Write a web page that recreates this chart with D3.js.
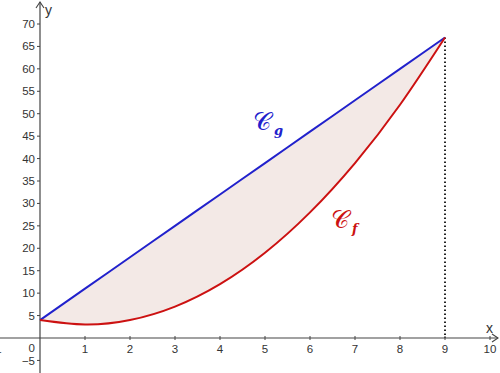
<!DOCTYPE html>
<html>
<head>
<meta charset="utf-8">
<script src="https://cdn.jsdelivr.net/npm/d3@7"></script>
<style>
  body { margin: 0; background: #fff; }
  svg { display: block; }
</style>
</head>
<body>
<div id="chart"></div>
<script>
// values
const xValues = [0, 1, 2, 3, 4, 5, 6, 7, 8, 9]
const fValues = [4, 3, 4, 7, 12, 19, 28, 39, 52, 67]
const gValues = [4, 11, 18, 25, 32, 39, 46, 53, 60, 67]
const xTicks = [-1, 1, 2, 3, 4, 5, 6, 7, 8, 9, 10]
const yTicks = [-5, 5, 10, 15, 20, 25, 30, 35, 40, 45, 50, 55, 60, 65, 70]

const width = 500, height = 373

const div = d3.select('#chart')
const svg = div.append('svg')
    .attr('width', width)
    .attr('height', height)

// scales
const xScale = d3.scaleLinear().domain([0, 9]).range([40, 445])
const yScale = d3.scaleLinear().domain([0, 70]).range([338, 24])

const pts = xValues.map((x, i) => ({x: x, f: fValues[i], g: gValues[i]}))

// shaded region between the curves
const area = d3.area()
    .x(d => xScale(d.x))
    .y0(d => yScale(d.f))
    .y1(d => yScale(d.g))
    .curve(d3.curveNatural)
svg.append('path')
    .datum(pts)
    .attr('d', area)
    .attr('fill', '#f3e9e6')

// axes
const axisColor = '#444'
svg.append('line')
    .attr('x1', 0).attr('x2', 498)
    .attr('y1', yScale(0)).attr('y2', yScale(0))
    .attr('stroke', axisColor).attr('stroke-width', 1.2)
svg.append('line')
    .attr('x1', xScale(0)).attr('x2', xScale(0))
    .attr('y1', height).attr('y2', 2)
    .attr('stroke', axisColor).attr('stroke-width', 1.2)

// arrow heads
svg.append('path')
    .attr('d', `M${xScale(0) - 4},8 L${xScale(0)},2 L${xScale(0) + 4},8`)
    .attr('fill', 'none').attr('stroke', axisColor).attr('stroke-width', 1.1)
svg.append('path')
    .attr('d', `M492,${yScale(0) - 4} L498,${yScale(0)} L492,${yScale(0) + 4}`)
    .attr('fill', 'none').attr('stroke', axisColor).attr('stroke-width', 1.1)

const textStyle = sel => sel
    .attr('font-family', 'Liberation Sans, Arial, sans-serif')
    .attr('font-size', 11.5)
    .attr('fill', '#333')

// x ticks
const xt = svg.append('g')
xt.selectAll('line').data(xTicks).join('line')
    .attr('x1', d => xScale(d)).attr('x2', d => xScale(d))
    .attr('y1', yScale(0) - 2).attr('y2', yScale(0) + 2)
    .attr('stroke', axisColor)
xt.selectAll('text').data(xTicks).join('text')
    .attr('x', d => xScale(d)).attr('y', yScale(0) + 15)
    .attr('text-anchor', 'middle')
    .text(d => d < 0 ? '\u2212' + Math.abs(d) : d)
    .call(textStyle)

// y ticks
const yt = svg.append('g')
yt.selectAll('line').data(yTicks).join('line')
    .attr('x1', xScale(0) - 3).attr('x2', xScale(0))
    .attr('y1', d => yScale(d)).attr('y2', d => yScale(d))
    .attr('stroke', axisColor)
yt.selectAll('text').data(yTicks).join('text')
    .attr('x', xScale(0) - 5).attr('y', d => yScale(d) + (d < 0 ? 5 : 4))
    .attr('text-anchor', 'end')
    .text(d => d < 0 ? '\u2212' + Math.abs(d) : d)
    .call(textStyle)

svg.append('text').attr('x', xScale(0) - 5).attr('y', yScale(0) + 14)
    .attr('text-anchor', 'end').text('0').call(textStyle)

// axis names
svg.append('text').attr('x', 45).attr('y', 15).text('y')
    .call(textStyle).attr('font-size', 14)
svg.append('text').attr('x', 486).attr('y', 333).text('x')
    .call(textStyle).attr('font-size', 14)

// dotted vertical line at x = 9
svg.append('line')
    .attr('x1', xScale(9)).attr('x2', xScale(9))
    .attr('y1', yScale(gValues[9])).attr('y2', yScale(0))
    .attr('stroke', '#222').attr('stroke-width', 2)
    .attr('stroke-dasharray', '1.5,2.5')

// curves
const line = key => d3.line()
    .x(d => xScale(d.x))
    .y(d => yScale(d[key]))
    .curve(d3.curveNatural)

svg.append('path').datum(pts)
    .attr('d', line('g'))
    .attr('fill', 'none').attr('stroke', '#2121cc').attr('stroke-width', 2)
svg.append('path').datum(pts)
    .attr('d', line('f'))
    .attr('fill', 'none').attr('stroke', '#cc1111').attr('stroke-width', 2)

// curve names
function curveLabel(x, y, sub, color) {
    const t = svg.append('text').attr('x', x).attr('y', y)
        .attr('fill', color)
    t.append('tspan').text('\uD835\uDC9E')
        .attr('font-family', 'DejaVu Serif, serif')
        .attr('font-size', 25)
    t.append('tspan').text(sub)
        .attr('dx', 3).attr('dy', 5)
        .attr('font-family', 'DejaVu Serif, serif')
        .attr('font-style', 'italic')
        .attr('font-weight', 'bold')
        .attr('font-size', 13)
}
curveLabel(253, 130, 'g', '#2121cc')
curveLabel(331, 228, 'f', '#cc1111')
</script>
</body>
</html>
